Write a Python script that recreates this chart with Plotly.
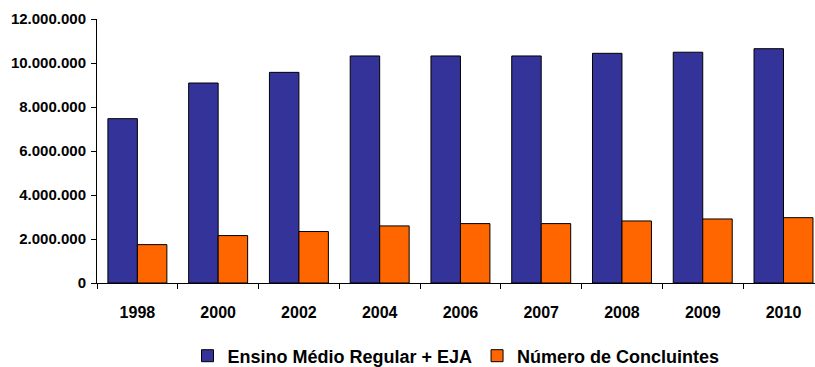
import plotly.graph_objects as go

years = ["1998", "2000", "2002", "2004", "2006", "2007", "2008", "2009", "2010"]
ensino_medio = [7470000, 9090000, 9575000, 10320000, 10320000, 10320000, 10440000, 10490000, 10650000]
concluintes = [1745000, 2155000, 2340000, 2595000, 2700000, 2700000, 2820000, 2910000, 2970000]

font_family = "Liberation Sans, Arial, sans-serif"

fig = go.Figure()
fig.add_trace(go.Bar(
    x=years, y=ensino_medio, name="Ensino Médio Regular + EJA",
    marker=dict(color="#333399", line=dict(color="black", width=1)),
))
fig.add_trace(go.Bar(
    x=years, y=concluintes, name="Número de Concluintes",
    marker=dict(color="#FF6600", line=dict(color="black", width=1)),
))

fig.update_layout(
    width=815, height=367,
    margin=dict(l=97, r=0, t=19, b=84),
    paper_bgcolor="white", plot_bgcolor="white",
    barmode="group", bargap=0.27, bargroupgap=0,
    separators=",.",
    font=dict(family=font_family, size=13, color="black", weight="bold"),
    showlegend=True,
    legend=dict(orientation="h", x=0.5, xanchor="center",
                yref="container", y=0.03, yanchor="middle",
                font=dict(size=18, weight="bold"), itemwidth=30, tracegroupgap=0),
    xaxis=dict(
        type="category", range=[-0.5, 8.39],
        showline=True, linecolor="black", linewidth=1,
        ticks="outside", tickson="boundaries", ticklen=5, tickcolor="black",
        showgrid=False, tickfont=dict(size=16, weight="bold"),
        ticklabelstandoff=15,
    ),
    yaxis=dict(
        range=[0, 12000000], dtick=2000000, tickformat=",.0f",
        showline=True, linecolor="black", linewidth=1,
        ticks="outside", ticklen=5, tickcolor="black",
        showgrid=False, zeroline=False,
        tickfont=dict(size=15, weight="bold"),
        ticklabelstandoff=2,
    ),
)

fig.write_html("out.html")
